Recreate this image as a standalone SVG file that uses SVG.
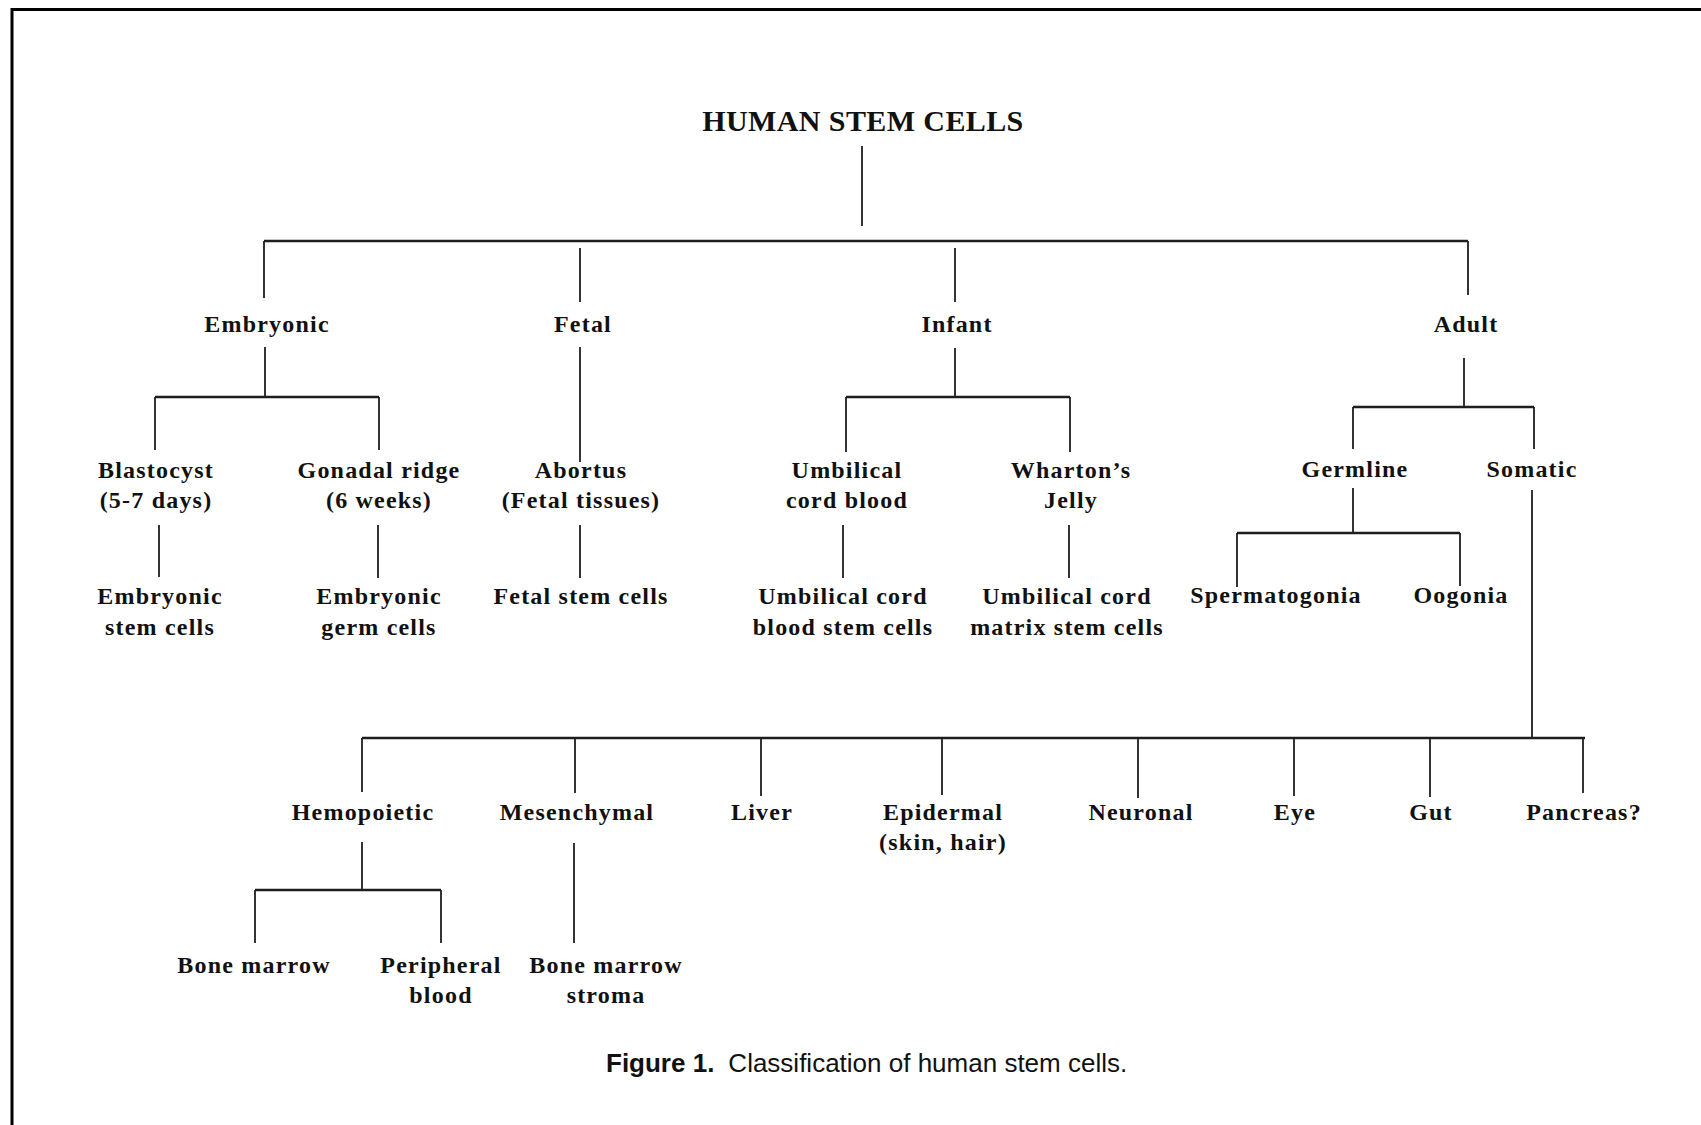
<svg xmlns="http://www.w3.org/2000/svg" width="1701" height="1125" viewBox="0 0 1701 1125">
<style>
  .bg { fill: #ffffff; }
  .frame { fill: none; stroke: #000; stroke-width: 3; }
  .ln { fill: none; stroke: #1e1e1e; stroke-width: 1.8; }
  .bar { fill: none; stroke: #1e1e1e; stroke-width: 2.4; }
  .t { font-family: "Liberation Serif", "Times New Roman", serif; font-weight: bold; font-size: 24px; letter-spacing: 1.2px; fill: #111; text-anchor: middle; }
  .title { font-family: "Liberation Serif", "Times New Roman", serif; font-weight: bold; font-size: 30px; letter-spacing: 0.4px; fill: #111; text-anchor: middle; }
  .cap { font-family: "Liberation Sans", Arial, sans-serif; font-size: 26px; fill: #111; }
  .capb { font-weight: bold; }
</style>
<rect class="bg" x="0" y="0" width="1701" height="1125"/>
<path class="frame" d="M12 1125 V9.5 H1701"/>

<g id="connectors">
  <path class="ln" d="M862 146 V226"/>
  <path class="bar" d="M264 241 H1468"/>
  <path class="ln" d="M264 241 V298 M580 248 V302 M955 248 V302 M1468 241 V295"/>
  <!-- Embryonic -->
  <path class="ln" d="M265 347 V397"/>
  <path class="bar" d="M155 397 H379"/>
  <path class="ln" d="M155 397 V450 M379 397 V450"/>
  <!-- Fetal -->
  <path class="ln" d="M580 347 V462"/>
  <!-- Infant -->
  <path class="ln" d="M955 348 V397"/>
  <path class="bar" d="M846 397 H1070"/>
  <path class="ln" d="M846 397 V452 M1070 397 V452"/>
  <!-- Adult -->
  <path class="ln" d="M1464 358 V407"/>
  <path class="bar" d="M1353 407 H1534"/>
  <path class="ln" d="M1353 407 V449 M1534 407 V449"/>
  <!-- Level 2 to level 3 -->
  <path class="ln" d="M159 525 V577 M378 525 V578 M580 525 V578 M843 525 V578 M1069 525 V578"/>
  <!-- Germline -->
  <path class="ln" d="M1353 488 V533"/>
  <path class="bar" d="M1237 533 H1460"/>
  <path class="ln" d="M1237 533 V587 M1460 533 V586"/>
  <!-- Somatic -->
  <path class="ln" d="M1532 490 V738"/>
  <path class="bar" d="M362 738 H1585"/>
  <path class="ln" d="M362 738 V792 M575 738 V793 M761 738 V796 M942 738 V795 M1138 738 V798 M1294 738 V796 M1430 738 V797 M1583 738 V793"/>
  <!-- Hemopoietic -->
  <path class="ln" d="M362 842 V890"/>
  <path class="bar" d="M255 890 H441"/>
  <path class="ln" d="M255 890 V943 M441 890 V943"/>
  <!-- Mesenchymal -->
  <path class="ln" d="M574 843 V943"/>
</g>

<g id="n-root"><text class="title" x="863" y="131">HUMAN STEM CELLS</text></g>

<g id="n-embryonic"><text class="t" x="267" y="332">Embryonic</text></g>
<g id="n-fetal"><text class="t" x="583" y="332">Fetal</text></g>
<g id="n-infant"><text class="t" x="957" y="332">Infant</text></g>
<g id="n-adult"><text class="t" x="1466" y="332">Adult</text></g>

<g id="n-blastocyst"><text class="t" x="156" y="478">Blastocyst</text><text class="t" x="156" y="508">(5-7 days)</text></g>
<g id="n-gonadal"><text class="t" x="379" y="478">Gonadal ridge</text><text class="t" x="379" y="508">(6 weeks)</text></g>
<g id="n-abortus"><text class="t" x="581" y="478">Abortus</text><text class="t" x="581" y="508">(Fetal tissues)</text></g>
<g id="n-umbilical"><text class="t" x="847" y="478">Umbilical</text><text class="t" x="847" y="508">cord blood</text></g>
<g id="n-wharton"><text class="t" x="1071" y="478">Wharton’s</text><text class="t" x="1071" y="508">Jelly</text></g>
<g id="n-germline"><text class="t" x="1355" y="477">Germline</text></g>
<g id="n-somatic"><text class="t" x="1532" y="477">Somatic</text></g>

<g id="n-esc"><text class="t" x="160" y="604">Embryonic</text><text class="t" x="160" y="635">stem cells</text></g>
<g id="n-egc"><text class="t" x="379" y="604">Embryonic</text><text class="t" x="379" y="635">germ cells</text></g>
<g id="n-fsc"><text class="t" x="581" y="604">Fetal stem cells</text></g>
<g id="n-ucb"><text class="t" x="843" y="604">Umbilical cord</text><text class="t" x="843" y="635">blood stem cells</text></g>
<g id="n-ucm"><text class="t" x="1067" y="604">Umbilical cord</text><text class="t" x="1067" y="635">matrix stem cells</text></g>
<g id="n-spermatogonia"><text class="t" x="1276" y="603">Spermatogonia</text></g>
<g id="n-oogonia"><text class="t" x="1461" y="603">Oogonia</text></g>

<g id="n-hemopoietic"><text class="t" x="363" y="820">Hemopoietic</text></g>
<g id="n-mesenchymal"><text class="t" x="577" y="820">Mesenchymal</text></g>
<g id="n-liver"><text class="t" x="762" y="820">Liver</text></g>
<g id="n-epidermal"><text class="t" x="943" y="820">Epidermal</text><text class="t" x="943" y="850">(skin, hair)</text></g>
<g id="n-neuronal"><text class="t" x="1141" y="820">Neuronal</text></g>
<g id="n-eye"><text class="t" x="1295" y="820">Eye</text></g>
<g id="n-gut"><text class="t" x="1431" y="820">Gut</text></g>
<g id="n-pancreas"><text class="t" x="1584" y="820">Pancreas?</text></g>

<g id="n-bonemarrow"><text class="t" x="254" y="973">Bone marrow</text></g>
<g id="n-peripheral"><text class="t" x="441" y="973">Peripheral</text><text class="t" x="441" y="1003">blood</text></g>
<g id="n-stroma"><text class="t" x="606" y="973">Bone marrow</text><text class="t" x="606" y="1003">stroma</text></g>

<g id="caption"><text class="cap" x="606" y="1072"><tspan class="capb">Figure 1.</tspan><tspan dx="14">Classification of human stem cells.</tspan></text></g>
</svg>
